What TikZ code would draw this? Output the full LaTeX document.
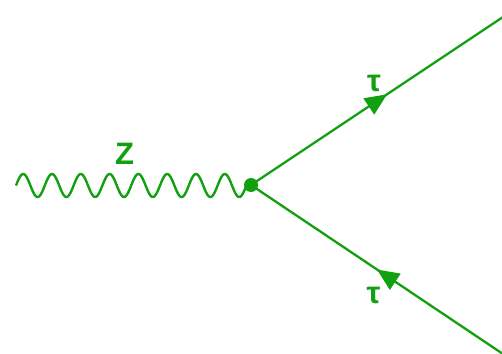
\documentclass[tikz,border=0pt]{standalone}
\usepackage{fontspec}
\setmainfont{Liberation Sans}
\usetikzlibrary{decorations.markings,arrows.meta}
\definecolor{fg}{RGB}{16,160,16}
\tikzset{
  fermion/.style={draw=fg, line width=2.3pt,
    postaction={decorate, decoration={markings,
      mark=at position #1 with {\arrow{Triangle[length=22pt,width=19pt]}}}}},
  boson/.style={draw=fg, line width=2.4pt},
  lbl/.style={text=fg, font=\fontsize{31}{31}\selectfont\bfseries, inner sep=0pt}
}
\begin{document}
\begin{tikzpicture}[x=1pt,y=-1pt]
\useasboundingbox (0,0) rectangle (502,353);
\coordinate (zs) at (16,186);
\coordinate (v) at (251,185);
\coordinate (t1) at (503,17);
\coordinate (t2) at (503,354);
\draw[boson] plot[variable=\t, domain=0:8, samples=320, smooth] ({16+28.8*\t}, {185.5 - 11.5*sin(360*\t)}) -- (v);
\draw[fermion=0.54, fg] (v) -- (t1);
\draw[fermion=0.5, fg] (t2) -- (v);
\node[circle, fill=fg, minimum size=14pt, inner sep=0pt] (dot) at (v) {};
\node[lbl, anchor=base] (lz) at (124.5,164) {Z};
\node[lbl] (lt1) at (374,83) {τ};
\node[lbl] (lt2) at (373.5,295.5) {τ};
\end{tikzpicture}
\end{document}
